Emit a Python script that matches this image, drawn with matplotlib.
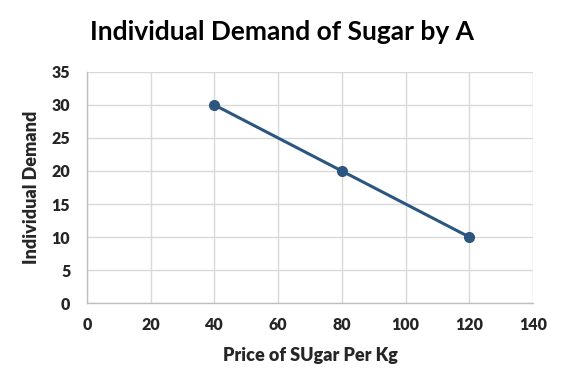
import matplotlib
matplotlib.use('Agg')
import matplotlib.pyplot as plt

# data
price = [40, 80, 120]
demand = [30, 20, 10]
x_ticks = [0, 20, 40, 60, 80, 100, 120, 140]
y_ticks = [0, 5, 10, 15, 20, 25, 30, 35]

plt.rcParams['font.family'] = ['Lato', 'DejaVu Sans']

fig = plt.figure(figsize=(5.63, 3.89), dpi=100)
ax = fig.add_axes([0.1545, 0.221, 0.7922, 0.594])

line_col = '#2c5680'
ax.plot(price, demand, color=line_col, linewidth=2.2, marker='o', markersize=7, zorder=3)

ax.set_xlim(0, 140)
ax.set_ylim(0, 35)
ax.set_xticks(x_ticks)
ax.set_yticks(y_ticks)
ax.grid(True, color='#d9d9d9', linewidth=1.0)
ax.set_axisbelow(True)

for s in ['top', 'right']:
    ax.spines[s].set_visible(False)
for s in ['left', 'bottom']:
    ax.spines[s].set_color('#bfbfbf')
    ax.spines[s].set_linewidth(1.0)
ax.tick_params(length=0, labelsize=11.5, pad=10)
for lab in ax.get_xticklabels() + ax.get_yticklabels():
    lab.set_fontweight('heavy')
    lab.set_color('#262626')
ax.tick_params(axis='y', pad=12)

ax.set_xlabel('Price of SUgar Per Kg', fontsize=13, fontweight='heavy', color='#262626', labelpad=10)
ax.set_ylabel('Individual Demand', fontsize=13, fontweight='heavy', color='#262626', labelpad=8)
fig.text(0.5, 0.918, 'Individual Demand of Sugar by A', ha='center', va='center',
         fontsize=19, fontweight='bold', color='black')

fig.savefig('out.png', dpi=100)
